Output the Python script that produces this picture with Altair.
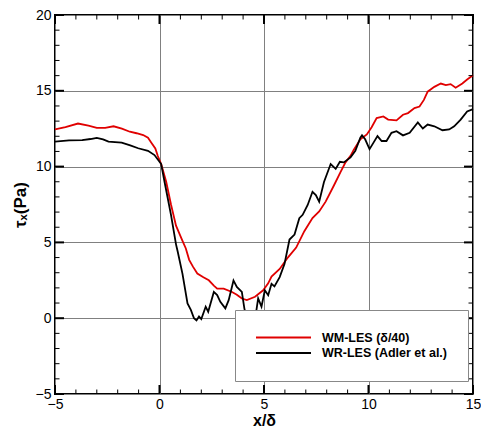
import altair as alt
import pandas as pd

# WM-LES (delta/40) - red
wm_x = [-5.0, -4.5, -3.9, -3.4, -3.0, -2.6, -2.2, -1.8, -1.42, -1.1, -0.78, -0.55, -0.39, -0.2, -0.08,
        0.08, 0.32, 0.55, 0.79, 1.1, 1.26, 1.42, 1.6, 1.81, 2.1, 2.36, 2.6, 2.76, 3.07, 3.47, 3.7, 3.94,
        4.18, 4.57, 4.96, 5.2, 5.36, 5.75, 6.14, 6.54, 6.93, 7.32, 7.64, 7.95, 8.35, 8.66, 8.9, 9.14,
        9.29, 9.61, 9.92, 10.15, 10.39, 10.71, 10.94, 11.34, 11.65, 11.89, 12.2, 12.44, 12.65, 12.83,
        13.15, 13.46, 13.7, 13.93, 14.17, 14.49, 14.72, 15.0]
wm_y = [12.45, 12.6, 12.84, 12.7, 12.56, 12.56, 12.66, 12.5, 12.3, 12.2, 12.08, 11.9, 11.58, 11.2, 10.7,
        10.17, 9.0, 7.5, 6.1, 5.1, 4.6, 3.85, 3.4, 2.95, 2.7, 2.5, 2.15, 1.95, 1.95, 1.73, 1.55, 1.3,
        1.19, 1.41, 1.84, 2.3, 2.75, 3.25, 4.0, 4.66, 5.74, 6.6, 7.04, 7.69, 8.77, 9.64, 10.28, 10.71,
        11.1, 11.8, 12.12, 12.6, 13.2, 13.31, 13.1, 13.05, 13.42, 13.53, 13.86, 13.96, 14.4, 14.94,
        15.26, 15.48, 15.37, 15.44, 15.2, 15.48, 15.74, 16.02]

# WR-LES (Adler et al.) - black
wr_x = [-5.0, -4.33, -3.7, -3.3, -3.0, -2.7, -2.44, -1.81, -1.4, -1.02, -0.55, -0.24, 0.08, 0.24, 0.55,
        0.79, 0.87, 1.1, 1.34, 1.5, 1.65, 1.77, 1.89, 2.0, 2.21, 2.33, 2.6, 2.76, 2.91, 3.15, 3.31, 3.54,
        3.7, 3.94, 4.06, 4.2, 4.45, 4.6, 4.65, 4.72, 4.88, 5.04, 5.2, 5.36, 5.5, 5.75, 5.98, 6.22, 6.46,
        6.69, 6.85, 7.09, 7.32, 7.48, 7.64, 7.87, 8.19, 8.43, 8.63, 8.82, 9.14, 9.37, 9.61, 9.69, 9.84,
        10.05, 10.24, 10.43, 10.63, 10.86, 11.1, 11.34, 11.65, 11.97, 12.36, 12.6, 12.83, 13.15, 13.54,
        13.86, 14.1, 14.41, 14.72, 15.0]
wr_y = [11.65, 11.73, 11.75, 11.82, 11.9, 11.8, 11.65, 11.58, 11.4, 11.21, 11.04, 10.76, 10.17, 9.0, 6.82,
        4.87, 4.4, 2.92, 0.97, 0.55, 0.0, -0.15, 0.11, -0.06, 0.76, 0.43, 1.73, 1.52, 1.08, 0.65, 1.19, 2.49,
        2.06, 1.73, 0.65, -0.2, -0.3, 0.2, 0.65, 1.3, 0.76, 1.84, 1.52, 2.27, 2.1, 2.71, 3.57, 5.19, 5.52,
        6.6, 6.82, 7.47, 8.34, 8.12, 7.69, 8.99, 10.17, 9.85, 10.32, 10.28, 10.61, 11.04, 11.9, 12.06, 11.8,
        11.15, 11.58, 12.01, 11.69, 11.69, 12.23, 12.34, 12.06, 12.23, 12.92, 12.51, 12.77, 12.66, 12.40,
        12.45, 12.66, 13.1, 13.64, 13.79]

series_names = ["WM-LES (δ/40)", "WR-LES (Adler et al.)"]
series_colors = ["#e00000", "#000000"]

x_major = [-5, 0, 5, 10, 15]
x_minor = [v for v in range(-5, 16) if v not in x_major]
y_major = [-5, 0, 5, 10, 15, 20]
y_minor = [v for v in range(-5, 21) if v not in y_major]

W, H = 418, 379
FONT = "Liberation Sans"
X_TITLE = "x/δ"
Y_TITLE = "τₓ(Pa)"

df = pd.concat([
    pd.DataFrame({"series": series_names[0], "x": wm_x, "y": wm_y}),
    pd.DataFrame({"series": series_names[1], "x": wr_x, "y": wr_y}),
])

xs = alt.Scale(domain=[-5, 15], nice=False, zero=False)
ys = alt.Scale(domain=[-5, 20], nice=False, zero=False)
x_axis = alt.Axis(values=x_major, grid=True, ticks=False, domain=False,
                  labelFlush=False, labelPadding=3, labelFontSize=14,
                  titlePadding=1, titleFontSize=16)
y_axis = alt.Axis(values=y_major, grid=True, ticks=False, domain=False,
                  labelFlush=False, labelPadding=4, labelFontSize=14,
                  titlePadding=6, titleFontSize=17)

lines = alt.Chart(df).mark_line(strokeWidth=1.8).encode(
    x=alt.X("x:Q", scale=xs, title=X_TITLE, axis=x_axis),
    y=alt.Y("y:Q", scale=ys, title=Y_TITLE, axis=y_axis),
    color=alt.Color("series:N",
                    scale=alt.Scale(domain=series_names, range=series_colors),
                    legend=alt.Legend(title=None, orient="none", legendX=180, legendY=295,
                                      fillColor="white", strokeColor="#888888", padding=20,
                                      symbolType="stroke", symbolSize=3025, symbolStrokeWidth=2,
                                      clipHeight=15, rowPadding=0.5, labelOffset=10,
                                      labelFont=FONT, labelFontSize=12.5, labelFontWeight="bold",
                                      labelColor="black", labelLimit=300)),
)


def xtick_layer(vals, y0, y1, w):
    return alt.Chart(pd.DataFrame({"x": vals})).mark_rule(color="black", strokeWidth=w).encode(
        x=alt.X("x:Q", scale=xs, title=X_TITLE, axis=x_axis), y=alt.value(y0), y2=alt.value(y1))


def ytick_layer(vals, x0, x1, w):
    return alt.Chart(pd.DataFrame({"y": vals})).mark_rule(color="black", strokeWidth=w).encode(
        y=alt.Y("y:Q", scale=ys, title=Y_TITLE, axis=y_axis), x=alt.value(x0), x2=alt.value(x1))


MAJ, MIN = 9, 4.5
ticks = [
    xtick_layer(x_major, H, H - MAJ, 2), xtick_layer(x_minor, H, H - MIN, 1),
    xtick_layer(x_major, 0, MAJ, 2), xtick_layer(x_minor, 0, MIN, 1),
    ytick_layer(y_major, 0, MAJ, 2), ytick_layer(y_minor, 0, MIN, 1),
    ytick_layer(y_major, W, W - MAJ, 2), ytick_layer(y_minor, W, W - MIN, 1),
]

chart = alt.layer(lines, *ticks).properties(
    width=W, height=H,
    autosize=alt.AutoSizeParams(type="none"),
    padding={"left": 47, "top": 7, "right": 8, "bottom": 37},
).configure_view(
    stroke="black", strokeWidth=2
).configure_axis(
    gridColor="#808080", gridWidth=1, gridOpacity=1,
    labelFont=FONT, labelColor="black",
    titleFont=FONT, titleFontWeight="bold", titleColor="black",
)

chart.save("out.html", embed_options={"renderer": "svg", "actions": False})
